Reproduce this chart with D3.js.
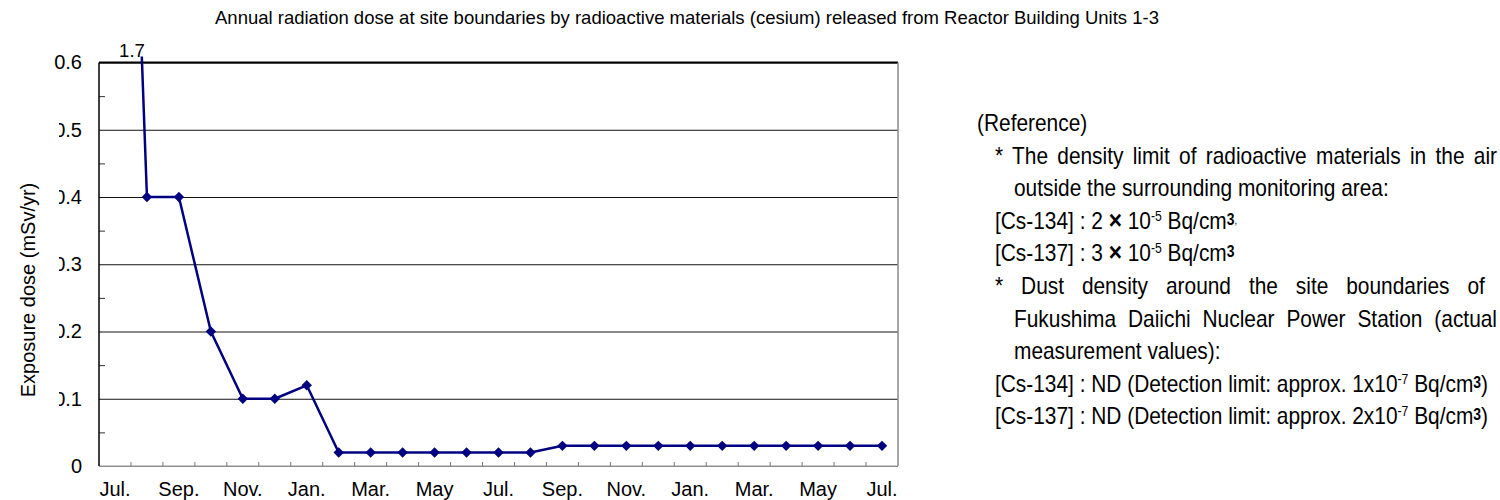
<!DOCTYPE html>
<html>
<head>
<meta charset="utf-8">
<script src="https://cdn.jsdelivr.net/npm/d3@7"></script>
<style>
body { margin: 0; background: #fff; }
svg text { font-family: "Liberation Sans", Arial, sans-serif; fill: #000; }
</style>
</head>
<body>
<svg id="chart" width="1500" height="500"></svg>
<script>
// monthly values, Jul. through Jul. two years later
var months = ["Jul.", "Aug.", "Sep.", "Oct.", "Nov.", "Dec.", "Jan.", "Feb.", "Mar.", "Apr.", "May", "Jun.",
              "Jul.", "Aug.", "Sep.", "Oct.", "Nov.", "Dec.", "Jan.", "Feb.", "Mar.", "Apr.", "May", "Jun.", "Jul."];
var dose = [1.7, 0.4, 0.4, 0.2, 0.1, 0.1, 0.12, 0.02, 0.02, 0.02, 0.02, 0.02, 0.02, 0.02,
            0.03, 0.03, 0.03, 0.03, 0.03, 0.03, 0.03, 0.03, 0.03, 0.03, 0.03];
var yTicks = [0, 0.1, 0.2, 0.3, 0.4, 0.5, 0.6];
var yMinor = [0.05, 0.15, 0.25, 0.35, 0.45, 0.55];
var yMax = 0.6;

var title = "Annual radiation dose at site boundaries by radioactive materials (cesium) released from Reactor Building Units 1-3";
var yTitle = "Exposure dose (mSv/yr)";

// side note, one entry per printed line: [indent, justify, parts]
var noteLines = [
    [0, false, [["(Reference)"]]],
    [1, true,  [["* The density limit of radioactive materials in the air"]]],
    [2, false, [["outside the surrounding monitoring area:"]]],
    [1, false, [["[Cs-134] : 2 "], ["\u00d7", "x"], [" 10"], ["-5", "sup"], [" Bq/cm"], ["3", "b3"], [",", "tiny"]]],
    [1, false, [["[Cs-137] : 3 "], ["\u00d7", "x"], [" 10"], ["-5", "sup"], [" Bq/cm"], ["3", "b3"]]],
    [1, true,  [["*  Dust density around the site boundaries of"]]],
    [2, true,  [["Fukushima Daiichi Nuclear Power Station (actual"]]],
    [2, false, [["measurement values):"]]],
    [1, false, [["[Cs-134] : ND (Detection limit: approx. 1x10"], ["-7", "sup"], [" Bq/cm"], ["3", "b3"], [")"]]],
    [1, false, [["[Cs-137] : ND (Detection limit: approx. 2x10"], ["-7", "sup"], [" Bq/cm"], ["3", "b3"], [")"]]]
];

var width = 1500, height = 500;
var plot = {left: 99, right: 898, top: 62.5, bottom: 466};
var navy = "#000080";
var fs = 20;

var svg = d3.select("#chart");

var x = d3.scaleBand()
    .domain(d3.range(months.length))
    .range([plot.left, plot.right]);
var bw = x.bandwidth();

var y = d3.scaleLinear()
    .domain([0, yMax])
    .range([plot.bottom, plot.top]);

// title
svg.append("text")
    .attr("x", 687)
    .attr("y", 24)
    .attr("text-anchor", "middle")
    .attr("font-size", 18.5)
    .text(title);

// gridlines + y labels
var yAxis = d3.axisLeft(y)
    .tickValues(yTicks)
    .tickFormat(d3.format(".1~f"))
    .tickSizeInner(-(plot.right - plot.left))
    .tickSizeOuter(0)
    .tickPadding(17);

var axisY = svg.append("g")
    .attr("class", "y axis")
    .attr("transform", "translate(" + plot.left + ",0)")
    .call(yAxis);
axisY.select(".domain").remove();
axisY.selectAll("line").attr("stroke", "#111").attr("stroke-width", 1);
axisY.selectAll("text").attr("font-size", fs).attr("font-family", "Liberation Sans, Arial, sans-serif");

var minorAxis = svg.append("g")
    .attr("transform", "translate(" + plot.left + ",0)")
    .call(d3.axisLeft(y).tickValues(yMinor).tickFormat("").tickSizeInner(-6).tickSizeOuter(0));
minorAxis.select(".domain").remove();
minorAxis.selectAll("line").attr("stroke", "#333");

// the axis title box hides the leading zero of the middle labels
svg.append("rect")
    .attr("x", 0).attr("y", 95)
    .attr("width", 59).attr("height", 325)
    .attr("fill", "#fff");

svg.append("text")
    .attr("transform", "translate(35,290) rotate(-90)")
    .attr("text-anchor", "middle")
    .attr("font-size", fs)
    .text(yTitle);

// x axis: labels every second month, ticks on category boundaries
var xAxis = d3.axisBottom(x)
    .tickSize(0)
    .tickPadding(16)
    .tickFormat(function(i) { return i % 2 === 0 ? months[i] : ""; });

var axisX = svg.append("g")
    .attr("class", "x axis")
    .attr("transform", "translate(0," + plot.bottom + ")")
    .call(xAxis);
axisX.select(".domain").remove();
axisX.selectAll("text").attr("font-size", fs).attr("font-family", "Liberation Sans, Arial, sans-serif");

svg.append("line")
    .attr("x1", plot.left).attr("x2", plot.right)
    .attr("y1", plot.bottom).attr("y2", plot.bottom)
    .attr("stroke", "#b8b8b8").attr("stroke-width", 1.5);

svg.selectAll(".xtick")
    .data(d3.range(1, months.length))
    .enter().append("line")
    .attr("class", "xtick")
    .attr("x1", function(i) { return x(i); })
    .attr("x2", function(i) { return x(i); })
    .attr("y1", plot.bottom)
    .attr("y2", plot.bottom - 4)
    .attr("stroke", "#777");

// frame
svg.append("line")
    .attr("x1", plot.left).attr("x2", plot.left)
    .attr("y1", plot.top).attr("y2", plot.bottom)
    .attr("stroke", "#000").attr("stroke-width", 1.5);
svg.append("line")
    .attr("x1", plot.left).attr("x2", plot.right)
    .attr("y1", plot.top).attr("y2", plot.top)
    .attr("stroke", "#000").attr("stroke-width", 2);
svg.append("line")
    .attr("x1", plot.right).attr("x2", plot.right)
    .attr("y1", plot.top).attr("y2", plot.bottom)
    .attr("stroke", "#888").attr("stroke-width", 1.5);

// series
svg.append("clipPath")
    .attr("id", "clip")
    .append("rect")
    .attr("x", plot.left).attr("y", plot.top - 6)
    .attr("width", plot.right - plot.left).attr("height", plot.bottom - plot.top + 6);

var line = d3.line()
    .x(function(d, i) { return x(i) + bw / 2; })
    .y(function(d) { return y(d); });

svg.append("path")
    .datum(dose)
    .attr("clip-path", "url(#clip)")
    .attr("fill", "none")
    .attr("stroke", navy)
    .attr("stroke-width", 2.5)
    .attr("stroke-linejoin", "round")
    .attr("d", line);

var diamond = d3.symbol().type(d3.symbolSquare).size(54);

svg.selectAll(".pt")
    .data(dose.map(function(d, i) { return {v: d, i: i}; }).filter(function(d) { return d.v <= yMax; }))
    .enter().append("path")
    .attr("class", "pt")
    .attr("d", diamond)
    .attr("fill", navy)
    .attr("transform", function(d) { return "translate(" + (x(d.i) + bw / 2) + "," + y(d.v) + ") rotate(45)"; });

// off-scale value label
svg.append("text")
    .attr("x", x(0) + bw / 2 + 17)
    .attr("y", 57)
    .attr("text-anchor", "middle")
    .attr("font-size", 18.5)
    .text(d3.format(".1f")(dose[0]));

// side note, a narrow face: squeeze the glyphs horizontally
var note = svg.append("g").attr("class", "note");
var indents = [977, 995, 1014];
var noteRight = 1497;
var sx = 0.87;

noteLines.forEach(function(row, k) {
    var x0 = indents[row[0]];
    var t = note.append("text")
        .attr("transform", "translate(" + x0 + "," + (131 + k * 32.6) + ") scale(" + sx + ",1)")
        .attr("font-size", 24);
    var shift = 0;
    row[2].forEach(function(p) {
        var s = t.append("tspan").text(p[0]);
        var want = 0;
        if (p[1] === "sup") { s.attr("font-size", 14); want = -8; }
        if (p[1] === "b3") { s.attr("font-size", 16).attr("font-weight", "bold"); want = -4; }
        if (p[1] === "x") { s.attr("font-weight", "bold").attr("font-size", 26); }
        if (p[1] === "tiny") { s.attr("font-size", 11); want = -5; }
        if (want !== shift) { s.attr("dy", want - shift); shift = want; }
    });
    if (row[1]) {
        var natural = t.node().getComputedTextLength();
        var gaps = t.text().split(" ").length - 1;
        var room = (noteRight - x0) / sx - natural;
        if (gaps > 0 && room > 0) t.attr("word-spacing", room / gaps);
    }
});
</script>
</body>
</html>
